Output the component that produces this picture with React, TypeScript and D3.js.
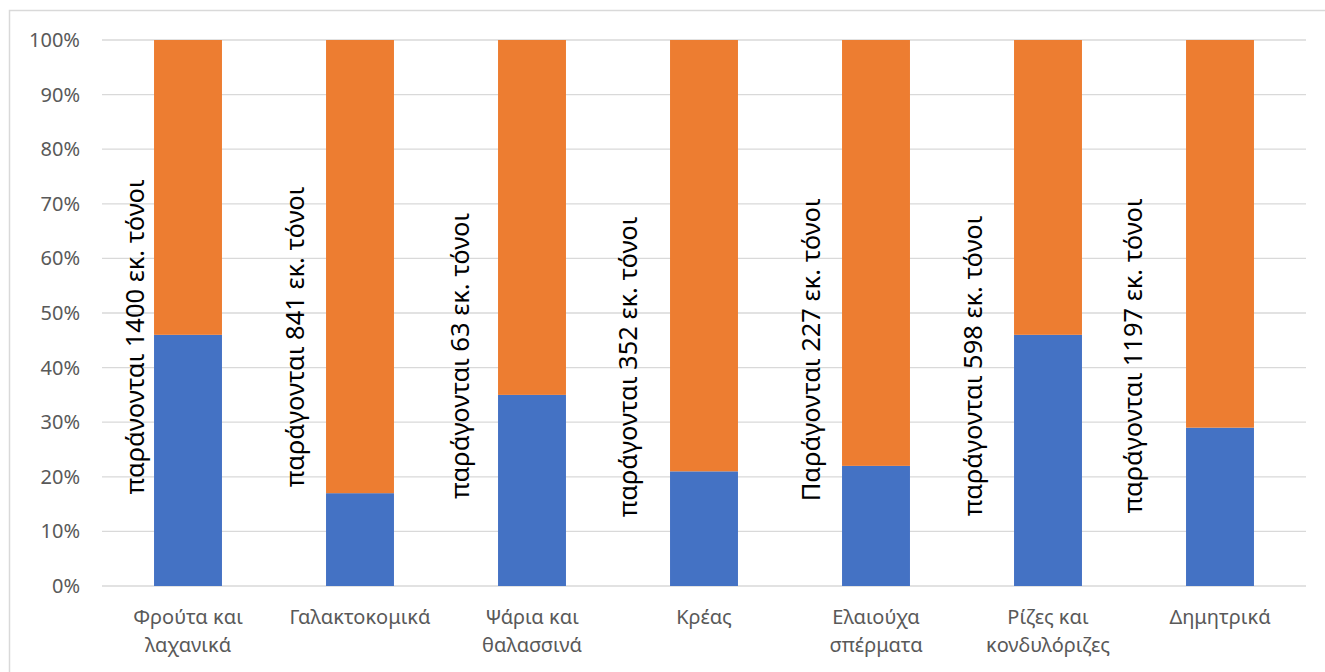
import React from "react";
import * as d3 from "d3";

const categories: string[][] = [
  ["Φρούτα και", "λαχανικά"],
  ["Γαλακτοκομικά"],
  ["Ψάρια και", "θαλασσινά"],
  ["Κρέας"],
  ["Ελαιούχα", "σπέρματα"],
  ["Ρίζες και", "κονδυλόριζες"],
  ["Δημητρικά"],
];
const blueShare = [46, 17, 35, 21, 22, 46, 29];
const orangeShare = [54, 83, 65, 79, 78, 54, 71];
const annotations = [
  "παράνονται 1400 εκ. τόνοι",
  "παράγονται 841 εκ. τόνοι",
  "παράγονται 63 εκ. τόνοι",
  "παράγονται 352 εκ. τόνοι",
  "Παράγονται 227 εκ. τόνοι",
  "παράγονται 598 εκ. τόνοι",
  "παράγονται 1197 εκ. τόνοι",
];
const yTicks = [0, 10, 20, 30, 40, 50, 60, 70, 80, 90, 100];

// annotation text-box placement (layout)
const annX = [144, 304, 469, 637, 820, 982, 1142];
const annY = [337, 337, 356, 367, 350, 366, 356];

const W = 1325;
const H = 672;
const FONT = "'Noto Sans', 'DejaVu Sans', sans-serif";

export default function App() {
  const x = d3
    .scaleBand<number>()
    .domain(d3.range(categories.length))
    .range([102, 1306])
    .paddingInner(0.605)
    .paddingOuter(0.3025);
  const y = d3.scaleLinear().domain([0, 100]).range([586, 40]);

  const stacked = d3.stack<any>().keys(["blue", "orange"])(
    blueShare.map((b, i) => ({ blue: b, orange: orangeShare[i] }))
  );
  const colors = ["#4472C4", "#ED7D31"];

  return (
    <svg
      width={W}
      height={H}
      style={{ position: "absolute", left: 0, top: 0, background: "#fff" }}
    >
      <rect x={9.5} y={10.5} width={1340} height={700} fill="#fff" stroke="#d9d9d9" strokeWidth={1.5} />
      {yTicks.map((t) => (
        <g key={t}>
          <line x1={102} x2={1306} y1={y(t)} y2={y(t)} stroke="#d9d9d9" strokeWidth={1.3} />
          <text
            x={80}
            y={y(t)}
            dy="0.35em"
            textAnchor="end"
            fontFamily={FONT}
            fontSize={20}
            fill="#595959"
          >
            {t + "%"}
          </text>
        </g>
      ))}
      {stacked.map((s, si) =>
        s.map((d, i) => (
          <rect
            key={si + "-" + i}
            x={x(i)}
            width={x.bandwidth()}
            y={y(d[1])}
            height={y(d[0]) - y(d[1])}
            fill={colors[si]}
          />
        ))
      )}
      {categories.map((lines, i) =>
        lines.map((ln, li) => (
          <text
            key={i + "-" + li}
            x={(x(i) as number) + x.bandwidth() / 2}
            y={624 + li * 28}
            textAnchor="middle"
            fontFamily={FONT}
            fontSize={20}
            fill="#595959"
          >
            {ln}
          </text>
        ))
      )}
      {annotations.map((a, i) => (
        <text
          key={"a" + i}
          transform={`translate(${annX[i]},${annY[i]}) rotate(-90)`}
          textAnchor="middle"
          fontFamily={FONT}
          fontSize={25.5}
          fill="#000"
        >
          {a}
        </text>
      ))}
    </svg>
  );
}
